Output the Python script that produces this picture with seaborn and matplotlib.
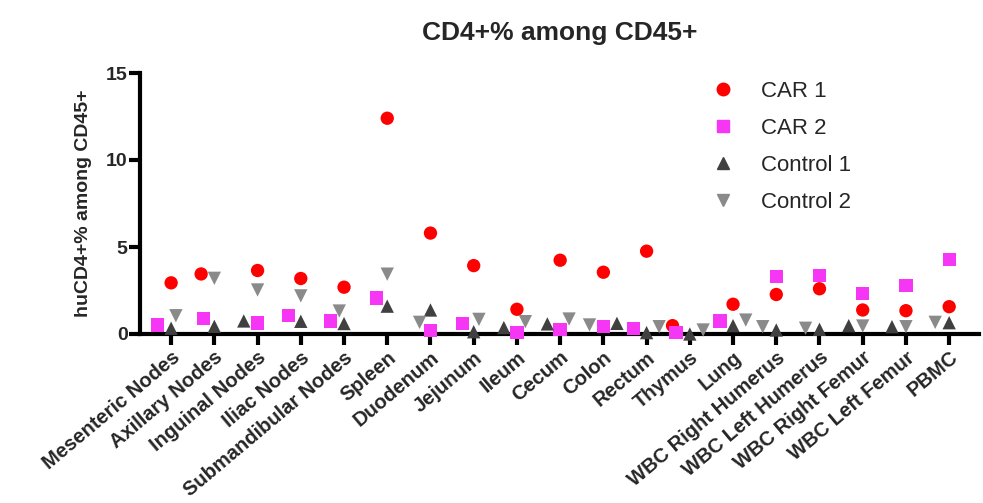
import numpy as np
import pandas as pd
import matplotlib
matplotlib.use("Agg")
import matplotlib.pyplot as plt
import seaborn as sns
from matplotlib.markers import MarkerStyle
from matplotlib.lines import Line2D

# tissues on the x axis
tissues = ["Mesenteric Nodes", "Axillary Nodes", "Inguinal Nodes", "Iliac Nodes",
           "Submandibular Nodes", "Spleen", "Duodenum", "Jejunum", "Ileum", "Cecum",
           "Colon", "Rectum", "Thymus", "Lung", "WBC Right Humerus", "WBC Left Humerus",
           "WBC Right Femur", "WBC Left Femur", "PBMC"]

# huCD4+% among CD45+ per group
car1 = [2.94, 3.45, 3.65, 3.19, 2.69, 12.4, 5.8, 3.93, 1.42, 4.24,
        3.55, 4.76, 0.48, 1.71, 2.27, 2.6, 1.38, 1.34, 1.57]
car2 = [0.52, 0.9, 0.63, 1.06, 0.75, 2.07, 0.19, 0.59, 0.1, 0.27,
        0.42, 0.33, 0.1, 0.75, 3.32, 3.38, 2.33, 2.79, 4.3]
control1 = [0.33, 0.44, 0.75, 0.73, 0.6, 1.6, 1.38, 0.13, 0.37, 0.58,
            0.61, 0.08, 0.0, 0.48, 0.23, 0.27, 0.48, 0.42, 0.65]
control2 = [1.05, 3.2, 2.53, 2.19, 1.32, 3.44, 0.67, 0.84, 0.71, 0.86,
            0.52, 0.42, 0.23, 0.8, 0.42, 0.33, 0.46, 0.42, 0.67]

groups = ["CAR 1", "CAR 2", "Control 1", "Control 2"]
colors = ["#ff0000", "#f536f5", "#404040", "#8a8a8a"]
markers = ["o", "s", "^", "v"]

df = pd.concat([
    pd.DataFrame({"tissue": tissues, "value": vals, "group": g})
    for g, vals in zip(groups, [car1, car2, control1, control2])
], ignore_index=True)

sns.set_theme(style="white")
plt.rcParams["font.family"] = ["Liberation Sans", "DejaVu Sans"]

fig = plt.figure(figsize=(9.83, 5.03), dpi=100)
ax = fig.add_axes([140 / 983, 1 - 334 / 503, (979 - 140) / 983, (334 - 73) / 503])

palette = dict(zip(groups, colors))
sns.swarmplot(data=df, x="tissue", y="value", hue="group", palette=palette,
              size=9, linewidth=0, order=tissues, hue_order=groups,
              legend=False, ax=ax)

# swap the swarm dots for a marker per group, matched by colour
marker_paths = []
for m in markers:
    ms = MarkerStyle(m)
    marker_paths.append(ms.get_path().transformed(ms.get_transform()))
rgb = [np.array(matplotlib.colors.to_rgb(c)) for c in colors]
for coll in ax.collections:
    fcs = coll.get_facecolors()
    if len(fcs) == 0:
        continue
    paths = []
    for fc in fcs:
        idx = int(np.argmin([np.abs(fc[:3] - c).sum() for c in rgb]))
        paths.append(marker_paths[idx])
    coll.set_paths(paths)
    coll.set_sizes([92])
    coll.set_clip_on(False)

ax.set_ylim(0, 15)
ax.set_yticks([0, 5, 10, 15])
ax.set_xlim(-0.72, 18.69)
ax.set_xlabel("")
ax.set_ylabel("huCD4+% among CD45+", fontsize=14, fontweight="bold", labelpad=10)
ax.set_title("CD4+% among CD45+", fontsize=19, fontweight="bold", pad=24)

for side in ["top", "right"]:
    ax.spines[side].set_visible(False)
for side in ["left", "bottom"]:
    ax.spines[side].set_linewidth(3)
    ax.spines[side].set_color("black")

ax.tick_params(axis="both", which="major", direction="out", length=8, width=3,
               color="black", left=True, bottom=True)
ax.tick_params(axis="y", labelsize=14, pad=1)
ax.tick_params(axis="x", labelsize=14.5, pad=2)
for lab in ax.get_yticklabels():
    lab.set_fontweight("bold")
ax.set_xticks(range(len(tissues)))
ax.set_xticklabels(tissues, rotation=40, ha="right", rotation_mode="anchor",
                   fontweight="bold")

handles = [Line2D([], [], linestyle="none", marker=m, color=c, markersize=9)
           for m, c in zip(markers, colors)]
fig.legend(handles, groups, loc="upper left", bbox_to_anchor=(712 / 983, 1 - 81 / 503),
           frameon=False, fontsize=16, handlelength=1.0, handletextpad=1.2,
           labelspacing=0.72, borderpad=0, borderaxespad=0)

fig.savefig("out.png", dpi=100)
